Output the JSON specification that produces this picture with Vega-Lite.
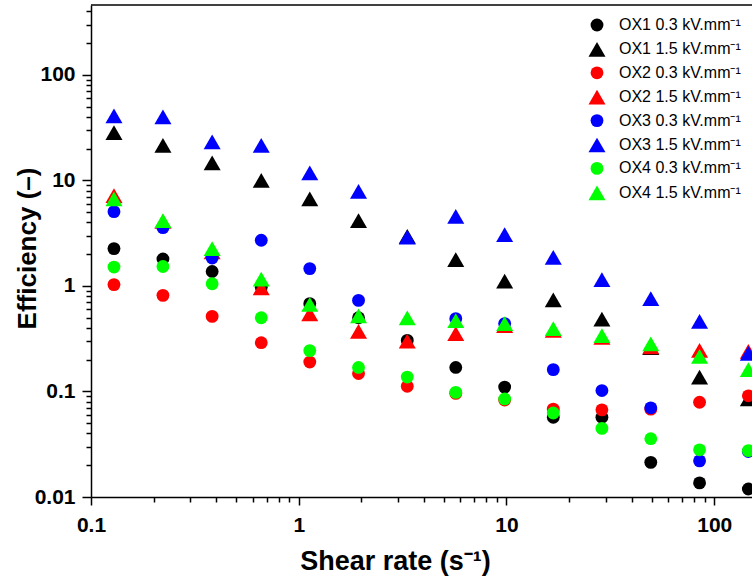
{
  "$schema": "https://vega.github.io/schema/vega-lite/v6.json",
  "width": 661,
  "height": 492,
  "autosize": {"type": "none"},
  "padding": {"left": 91, "top": 5, "right": 0, "bottom": 82},
  "background": "white",
  "config": {"view": {"stroke": null}, "font": "Liberation Sans"},
  "layer": [
    {
      "data": {"values": [
        {"s":"OX1 0.3 kV.mm⁻¹","x":0.129,"y":2.26},{"s":"OX1 0.3 kV.mm⁻¹","x":0.222,"y":1.80},{"s":"OX1 0.3 kV.mm⁻¹","x":0.383,"y":1.37},{"s":"OX1 0.3 kV.mm⁻¹","x":0.66,"y":0.97},{"s":"OX1 0.3 kV.mm⁻¹","x":1.13,"y":0.68},{"s":"OX1 0.3 kV.mm⁻¹","x":1.94,"y":0.50},{"s":"OX1 0.3 kV.mm⁻¹","x":3.33,"y":0.305},{"s":"OX1 0.3 kV.mm⁻¹","x":5.7,"y":0.169},{"s":"OX1 0.3 kV.mm⁻¹","x":9.8,"y":0.110},{"s":"OX1 0.3 kV.mm⁻¹","x":16.8,"y":0.057},{"s":"OX1 0.3 kV.mm⁻¹","x":28.8,"y":0.057},{"s":"OX1 0.3 kV.mm⁻¹","x":49.5,"y":0.0213},{"s":"OX1 0.3 kV.mm⁻¹","x":85,"y":0.0136},{"s":"OX1 0.3 kV.mm⁻¹","x":146,"y":0.0119},
        {"s":"OX1 1.5 kV.mm⁻¹","x":0.129,"y":28.4},{"s":"OX1 1.5 kV.mm⁻¹","x":0.222,"y":21.5},{"s":"OX1 1.5 kV.mm⁻¹","x":0.383,"y":14.7},{"s":"OX1 1.5 kV.mm⁻¹","x":0.66,"y":10.0},{"s":"OX1 1.5 kV.mm⁻¹","x":1.13,"y":6.7},{"s":"OX1 1.5 kV.mm⁻¹","x":1.94,"y":4.16},{"s":"OX1 1.5 kV.mm⁻¹","x":3.33,"y":2.95},{"s":"OX1 1.5 kV.mm⁻¹","x":5.7,"y":1.78},{"s":"OX1 1.5 kV.mm⁻¹","x":9.8,"y":1.11},{"s":"OX1 1.5 kV.mm⁻¹","x":16.8,"y":0.74},{"s":"OX1 1.5 kV.mm⁻¹","x":28.8,"y":0.486},{"s":"OX1 1.5 kV.mm⁻¹","x":49.5,"y":0.26},{"s":"OX1 1.5 kV.mm⁻¹","x":85,"y":0.137},{"s":"OX1 1.5 kV.mm⁻¹","x":146,"y":0.085},
        {"s":"OX2 0.3 kV.mm⁻¹","x":0.129,"y":1.03},{"s":"OX2 0.3 kV.mm⁻¹","x":0.222,"y":0.815},{"s":"OX2 0.3 kV.mm⁻¹","x":0.383,"y":0.515},{"s":"OX2 0.3 kV.mm⁻¹","x":0.66,"y":0.29},{"s":"OX2 0.3 kV.mm⁻¹","x":1.13,"y":0.19},{"s":"OX2 0.3 kV.mm⁻¹","x":1.94,"y":0.148},{"s":"OX2 0.3 kV.mm⁻¹","x":3.33,"y":0.112},{"s":"OX2 0.3 kV.mm⁻¹","x":5.7,"y":0.096},{"s":"OX2 0.3 kV.mm⁻¹","x":9.8,"y":0.083},{"s":"OX2 0.3 kV.mm⁻¹","x":16.8,"y":0.068},{"s":"OX2 0.3 kV.mm⁻¹","x":28.8,"y":0.067},{"s":"OX2 0.3 kV.mm⁻¹","x":49.5,"y":0.068},{"s":"OX2 0.3 kV.mm⁻¹","x":85,"y":0.079},{"s":"OX2 0.3 kV.mm⁻¹","x":146,"y":0.091},
        {"s":"OX2 1.5 kV.mm⁻¹","x":0.129,"y":7.2},{"s":"OX2 1.5 kV.mm⁻¹","x":0.222,"y":4.1},{"s":"OX2 1.5 kV.mm⁻¹","x":0.383,"y":2.1},{"s":"OX2 1.5 kV.mm⁻¹","x":0.66,"y":0.96},{"s":"OX2 1.5 kV.mm⁻¹","x":1.13,"y":0.543},{"s":"OX2 1.5 kV.mm⁻¹","x":1.94,"y":0.372},{"s":"OX2 1.5 kV.mm⁻¹","x":3.33,"y":0.30},{"s":"OX2 1.5 kV.mm⁻¹","x":5.7,"y":0.353},{"s":"OX2 1.5 kV.mm⁻¹","x":9.8,"y":0.42},{"s":"OX2 1.5 kV.mm⁻¹","x":16.8,"y":0.38},{"s":"OX2 1.5 kV.mm⁻¹","x":28.8,"y":0.325},{"s":"OX2 1.5 kV.mm⁻¹","x":49.5,"y":0.265},{"s":"OX2 1.5 kV.mm⁻¹","x":85,"y":0.245},{"s":"OX2 1.5 kV.mm⁻¹","x":146,"y":0.24},
        {"s":"OX3 0.3 kV.mm⁻¹","x":0.129,"y":5.06},{"s":"OX3 0.3 kV.mm⁻¹","x":0.222,"y":3.57},{"s":"OX3 0.3 kV.mm⁻¹","x":0.383,"y":1.84},{"s":"OX3 0.3 kV.mm⁻¹","x":0.66,"y":2.71},{"s":"OX3 0.3 kV.mm⁻¹","x":1.13,"y":1.46},{"s":"OX3 0.3 kV.mm⁻¹","x":1.94,"y":0.73},{"s":"OX3 0.3 kV.mm⁻¹","x":5.7,"y":0.49},{"s":"OX3 0.3 kV.mm⁻¹","x":9.8,"y":0.44},{"s":"OX3 0.3 kV.mm⁻¹","x":16.8,"y":0.161},{"s":"OX3 0.3 kV.mm⁻¹","x":28.8,"y":0.102},{"s":"OX3 0.3 kV.mm⁻¹","x":49.5,"y":0.07},{"s":"OX3 0.3 kV.mm⁻¹","x":85,"y":0.022},{"s":"OX3 0.3 kV.mm⁻¹","x":146,"y":0.027},
        {"s":"OX3 1.5 kV.mm⁻¹","x":0.129,"y":41},{"s":"OX3 1.5 kV.mm⁻¹","x":0.222,"y":40},{"s":"OX3 1.5 kV.mm⁻¹","x":0.383,"y":23.2},{"s":"OX3 1.5 kV.mm⁻¹","x":0.66,"y":21.5},{"s":"OX3 1.5 kV.mm⁻¹","x":1.13,"y":11.8},{"s":"OX3 1.5 kV.mm⁻¹","x":1.94,"y":7.9},{"s":"OX3 1.5 kV.mm⁻¹","x":3.33,"y":2.91},{"s":"OX3 1.5 kV.mm⁻¹","x":5.7,"y":4.57},{"s":"OX3 1.5 kV.mm⁻¹","x":9.8,"y":3.06},{"s":"OX3 1.5 kV.mm⁻¹","x":16.8,"y":1.87},{"s":"OX3 1.5 kV.mm⁻¹","x":28.8,"y":1.15},{"s":"OX3 1.5 kV.mm⁻¹","x":49.5,"y":0.76},{"s":"OX3 1.5 kV.mm⁻¹","x":85,"y":0.461},{"s":"OX3 1.5 kV.mm⁻¹","x":146,"y":0.23},
        {"s":"OX4 0.3 kV.mm⁻¹","x":0.129,"y":1.51},{"s":"OX4 0.3 kV.mm⁻¹","x":0.222,"y":1.53},{"s":"OX4 0.3 kV.mm⁻¹","x":0.383,"y":1.05},{"s":"OX4 0.3 kV.mm⁻¹","x":0.66,"y":0.50},{"s":"OX4 0.3 kV.mm⁻¹","x":1.13,"y":0.244},{"s":"OX4 0.3 kV.mm⁻¹","x":1.94,"y":0.169},{"s":"OX4 0.3 kV.mm⁻¹","x":3.33,"y":0.137},{"s":"OX4 0.3 kV.mm⁻¹","x":5.7,"y":0.098},{"s":"OX4 0.3 kV.mm⁻¹","x":9.8,"y":0.085},{"s":"OX4 0.3 kV.mm⁻¹","x":16.8,"y":0.0625},{"s":"OX4 0.3 kV.mm⁻¹","x":28.8,"y":0.0447},{"s":"OX4 0.3 kV.mm⁻¹","x":49.5,"y":0.0357},{"s":"OX4 0.3 kV.mm⁻¹","x":85,"y":0.028},{"s":"OX4 0.3 kV.mm⁻¹","x":146,"y":0.0275},
        {"s":"OX4 1.5 kV.mm⁻¹","x":0.129,"y":6.7},{"s":"OX4 1.5 kV.mm⁻¹","x":0.222,"y":4.16},{"s":"OX4 1.5 kV.mm⁻¹","x":0.383,"y":2.26},{"s":"OX4 1.5 kV.mm⁻¹","x":0.66,"y":1.16},{"s":"OX4 1.5 kV.mm⁻¹","x":1.13,"y":0.67},{"s":"OX4 1.5 kV.mm⁻¹","x":1.94,"y":0.52},{"s":"OX4 1.5 kV.mm⁻¹","x":3.33,"y":0.498},{"s":"OX4 1.5 kV.mm⁻¹","x":5.7,"y":0.47},{"s":"OX4 1.5 kV.mm⁻¹","x":9.8,"y":0.44},{"s":"OX4 1.5 kV.mm⁻¹","x":16.8,"y":0.394},{"s":"OX4 1.5 kV.mm⁻¹","x":28.8,"y":0.338},{"s":"OX4 1.5 kV.mm⁻¹","x":49.5,"y":0.282},{"s":"OX4 1.5 kV.mm⁻¹","x":85,"y":0.215},{"s":"OX4 1.5 kV.mm⁻¹","x":146,"y":0.161}
      ]},
      "mark": {"type": "point", "filled": true, "opacity": 1, "strokeWidth": 0},
      "encoding": {
        "x": {
          "field": "x", "type": "quantitative",
          "scale": {"type": "log", "domain": [0.1, 152], "nice": false},
          "axis": {
            "values": [0.1,0.2,0.3,0.4,0.5,0.6,0.7,0.8,0.9,1,2,3,4,5,6,7,8,9,10,20,30,40,50,60,70,80,90,100],
            "labelExpr": "indexof([0.1,1,10,100], datum.value) >= 0 ? toString(datum.value) : ''",
            "labelOverlap": false,
            "labelFlush": false,
            "tickSize": {"condition": {"test": "indexof([0.1,1,10,100], datum.value) >= 0", "value": 8}, "value": 5},
            "tickColor": "black", "tickWidth": 1.5,
            "domainColor": "black", "domainWidth": 1.5,
            "grid": false,
            "labelFont": "Liberation Sans", "labelFontWeight": "bold", "labelFontSize": 21, "labelColor": "black", "labelPadding": 9,
            "title": "Shear rate (s⁻¹)",
            "titleFont": "Liberation Sans", "titleFontWeight": "bold", "titleFontSize": 27, "titleColor": "black",
            "titleX": 304, "titleY": 64, "titleBaseline": "middle", "titleAlign": "center"
          }
        },
        "y": {
          "field": "y", "type": "quantitative",
          "scale": {"type": "log", "domain": [0.01, 460], "nice": false},
          "axis": {
            "values": [0.01,0.02,0.03,0.04,0.05,0.06,0.07,0.08,0.09,0.1,0.2,0.3,0.4,0.5,0.6,0.7,0.8,0.9,1,2,3,4,5,6,7,8,9,10,20,30,40,50,60,70,80,90,100,200,300,400],
            "labelExpr": "indexof([0.01,0.1,1,10,100], datum.value) >= 0 ? toString(datum.value) : ''",
            "labelOverlap": false,
            "labelFlush": false,
            "tickSize": {"condition": {"test": "indexof([0.01,0.1,1,10,100], datum.value) >= 0", "value": 9}, "value": 5},
            "tickColor": "black", "tickWidth": 1.5,
            "domainColor": "black", "domainWidth": 1.5,
            "grid": false,
            "labelFont": "Liberation Sans", "labelFontWeight": "bold", "labelFontSize": 21, "labelColor": "black", "labelPadding": 7,
            "title": "Efficiency (–)",
            "titleFont": "Liberation Sans", "titleFontWeight": "bold", "titleFontSize": 26, "titleColor": "black",
            "titleX": -64, "titleY": 243, "titleBaseline": "middle", "titleAlign": "center", "titleAngle": 270
          }
        },
        "color": {
          "field": "s", "type": "nominal",
          "scale": {
            "domain": ["OX1 0.3 kV.mm⁻¹","OX1 1.5 kV.mm⁻¹","OX2 0.3 kV.mm⁻¹","OX2 1.5 kV.mm⁻¹","OX3 0.3 kV.mm⁻¹","OX3 1.5 kV.mm⁻¹","OX4 0.3 kV.mm⁻¹","OX4 1.5 kV.mm⁻¹"],
            "range": ["#000000","#000000","#ff0000","#ff0000","#0000ff","#0000ff","#00ff00","#00ff00"]
          },
          "legend": {
            "orient": "none", "legendX": 497, "legendY": 12, "title": null, "padding": 0,
            "labelFont": "Liberation Sans", "labelFontSize": 16, "labelColor": "black",
            "rowPadding": 7.4, "labelOffset": 13, "symbolOpacity": 1, "symbolStrokeWidth": 0
          }
        },
        "shape": {
          "field": "s", "type": "nominal",
          "scale": {
            "domain": ["OX1 0.3 kV.mm⁻¹","OX1 1.5 kV.mm⁻¹","OX2 0.3 kV.mm⁻¹","OX2 1.5 kV.mm⁻¹","OX3 0.3 kV.mm⁻¹","OX3 1.5 kV.mm⁻¹","OX4 0.3 kV.mm⁻¹","OX4 1.5 kV.mm⁻¹"],
            "range": ["circle","triangle-up","circle","triangle-up","circle","triangle-up","circle","triangle-up"]
          }
        },
        "size": {
          "field": "s", "type": "nominal",
          "scale": {
            "type": "ordinal",
            "domain": ["OX1 0.3 kV.mm⁻¹","OX1 1.5 kV.mm⁻¹","OX2 0.3 kV.mm⁻¹","OX2 1.5 kV.mm⁻¹","OX3 0.3 kV.mm⁻¹","OX3 1.5 kV.mm⁻¹","OX4 0.3 kV.mm⁻¹","OX4 1.5 kV.mm⁻¹"],
            "range": [165,290,165,290,165,290,165,290]
          }
        }
      }
    },
    {
      "data": {"values": [{"top": 460}]},
      "mark": {"type": "rule", "color": "black", "strokeWidth": 1.5},
      "encoding": {"y": {"field": "top", "type": "quantitative"}}
    }
  ]
}
